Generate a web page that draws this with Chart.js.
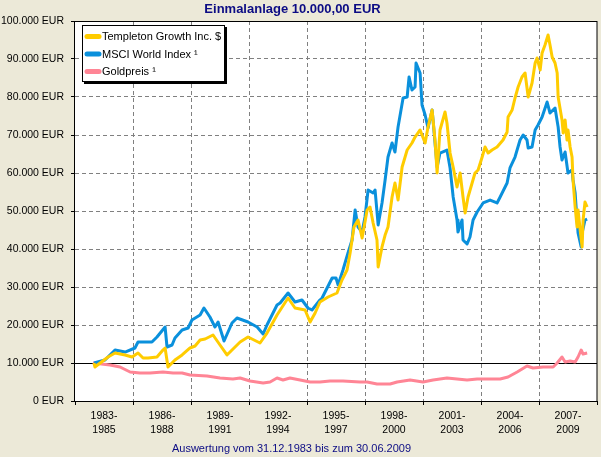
<!DOCTYPE html>
<html lang="de">
<head>
<meta charset="utf-8">
<title>Einmalanlage 10.000,00 EUR</title>
<script src="https://cdn.jsdelivr.net/npm/chart.js@4.4.0/dist/chart.umd.min.js"></script>
<style>
  html, body { margin: 0; padding: 0; background: #ece9d8; }
  #growthChart { display: block; }
</style>
</head>
<body>
<canvas id="growthChart" width="601" height="457"></canvas>
<script>
const titleText = 'Einmalanlage 10.000,00 EUR';
const footerText = 'Auswertung vom 31.12.1983 bis zum 30.06.2009';
const seriesNames = ['Templeton Growth Inc. $', 'MSCI World Index \u00b9', 'Goldpreis \u00b9'];
const seriesColors = ['#ffcc00', '#0a90dc', '#ff8595'];

// x axis: 9 periods of three years, 1983 .. 2010
const periodLabels = [
  ['1983-', '1985'], ['1986-', '1988'], ['1989-', '1991'],
  ['1992-', '1994'], ['1995-', '1997'], ['1998-', '2000'],
  ['2001-', '2003'], ['2004-', '2006'], ['2007-', '2009']
];
const yearStart = 1983;
const yearEnd = 2010;

// values (date as decimal year, value in EUR)
const templetonDates = [1983.98, 1984.03, 1984.71, 1985.07, 1985.59, 1985.95, 1986.26, 1986.52, 1986.78, 1987.24,
  1987.55, 1987.66, 1987.81, 1988.17, 1988.54, 1988.95, 1989.21, 1989.47, 1989.73, 1990.14,
  1990.50, 1990.86, 1991.54, 1991.95, 1992.57, 1992.93, 1993.45, 1994.02, 1994.38, 1994.90,
  1995.16, 1995.42, 1995.67, 1996.09, 1996.55, 1996.81, 1997.07, 1997.23, 1997.43, 1997.64,
  1997.85, 1998.11, 1998.26, 1998.42, 1998.62, 1998.68, 1998.88, 1999.04, 1999.19, 1999.40,
  1999.55, 1999.71, 1999.92, 2000.18, 2000.43, 2000.59, 2000.85, 2001.11, 2001.26, 2001.47,
  2001.62, 2001.73, 2001.88, 2002.14, 2002.24, 2002.40, 2002.56, 2002.76, 2002.92, 2003.07,
  2003.18, 2003.33, 2003.54, 2003.69, 2003.85, 2004.06, 2004.21, 2004.37, 2004.57, 2004.83,
  2005.14, 2005.35, 2005.40, 2005.61, 2005.76, 2005.92, 2006.12, 2006.28, 2006.44, 2006.64,
  2006.80, 2006.90, 2007.06, 2007.16, 2007.31, 2007.47, 2007.57, 2007.68, 2007.83, 2007.94,
  2007.99, 2008.19, 2008.25, 2008.35, 2008.45, 2008.50, 2008.61, 2008.71, 2008.76, 2008.87,
  2008.97, 2009.02, 2009.13, 2009.23, 2009.28, 2009.38, 2009.49];
const templetonValues = [10000, 8950, 11580, 12630, 12110, 11580, 12630, 11320, 11320, 11580,
  13420, 13950, 8950, 10790, 12110, 13950, 14470, 16050, 16320, 17370,
  14740, 12110, 15530, 16840, 15260, 17890, 22630, 27110, 24470, 23950,
  20790, 23160, 26050, 27370, 28420, 31840, 34470, 38950, 45790, 47630,
  42890, 50260, 51050, 46840, 42370, 35260, 40530, 43680, 45790, 53680,
  57370, 52890, 61580, 66050, 67890, 69470, 71320, 67890, 72110, 76580,
  68680, 60000, 71320, 76050, 73160, 65260, 61580, 56320, 60000, 53680,
  49470, 53680, 57370, 60000, 60790, 64210, 66840, 65260, 66050, 66840,
  68680, 70790, 74740, 76580, 79740, 82630, 85260, 86320, 80000, 83680,
  88950, 90260, 87110, 91580, 93680, 96320, 93680, 90530, 88950, 86320,
  80000, 73950, 70530, 73950, 68680, 71320, 66840, 64210, 58160, 51050,
  45790, 50260, 45000, 40530, 47630, 52370, 51050];

const msciDates = [1983.98, 1984.55, 1985.07, 1985.59, 1986.10, 1986.26, 1986.98, 1987.24, 1987.66, 1987.76,
  1988.02, 1988.17, 1988.54, 1988.85, 1989.05, 1989.47, 1989.67, 1989.98, 1990.24, 1990.40,
  1990.71, 1991.12, 1991.38, 1991.95, 1992.42, 1992.73, 1992.93, 1993.45, 1993.61, 1994.02,
  1994.38, 1994.74, 1995.05, 1995.26, 1995.67, 1995.78, 1996.30, 1996.50, 1996.61, 1996.86,
  1997.12, 1997.33, 1997.49, 1997.64, 1997.85, 1998.00, 1998.16, 1998.42, 1998.52, 1998.68,
  1998.88, 1999.04, 1999.19, 1999.40, 1999.55, 1999.71, 1999.97, 2000.18, 2000.28, 2000.43,
  2000.59, 2000.64, 2000.85, 2000.95, 2001.11, 2001.26, 2001.47, 2001.52, 2001.73, 2001.88,
  2002.24, 2002.40, 2002.56, 2002.76, 2002.81, 2003.02, 2003.07, 2003.28, 2003.43, 2003.59,
  2003.80, 2004.11, 2004.47, 2004.83, 2004.99, 2005.35, 2005.50, 2005.76, 2006.02, 2006.18,
  2006.38, 2006.44, 2006.64, 2006.80, 2006.95, 2007.16, 2007.42, 2007.57, 2007.83, 2007.99,
  2008.09, 2008.19, 2008.35, 2008.50, 2008.71, 2008.76, 2008.87, 2008.92, 2008.97, 2009.02,
  2009.18, 2009.23, 2009.38, 2009.49];
const msciValues = [10000, 10790, 13420, 12890, 13950, 15530, 15530, 16840, 19470, 14210,
  14740, 16580, 18680, 19210, 21320, 22630, 24470, 22110, 19470, 20790,
  15790, 20530, 21840, 20790, 19470, 17630, 20000, 25260, 25790, 28420,
  26050, 26580, 24470, 23950, 26580, 27110, 32370, 32370, 30530, 34470,
  38950, 42370, 50260, 45790, 44470, 48420, 55530, 54740, 55530, 46320,
  52110, 58160, 64210, 67890, 65530, 72110, 79740, 80000, 85260, 81840,
  82630, 88950, 86320, 77890, 75260, 71840, 76580, 73950, 61580, 65260,
  66050, 61320, 53680, 47630, 44470, 47630, 42370, 41320, 43160, 47630,
  49740, 52110, 52890, 52110, 53680, 57370, 61320, 64210, 68680, 70000,
  68680, 66580, 66840, 71320, 72630, 74740, 78680, 75790, 77110, 72110,
  66840, 63420, 65530, 60000, 60790, 58160, 54740, 51050, 47630, 44210,
  40530, 44210, 47630, 47890];

const goldDates = [1983.93, 1984.81, 1985.33, 1985.85, 1986.36, 1986.88, 1987.55, 1988.07, 1988.54, 1988.95,
  1989.83, 1990.50, 1991.17, 1991.54, 1992.05, 1992.73, 1993.09, 1993.45, 1993.76, 1994.12,
  1994.64, 1995.16, 1995.67, 1996.19, 1996.86, 1997.74, 1998.11, 1998.62, 1999.30, 1999.66,
  2000.33, 2001.00, 2001.52, 2002.24, 2002.76, 2003.28, 2003.80, 2004.31, 2004.99, 2005.40,
  2005.87, 2006.38, 2006.69, 2007.21, 2007.73, 2007.94, 2008.19, 2008.35, 2008.61, 2008.87,
  2009.02, 2009.18, 2009.28, 2009.49];
const goldValues = [10000, 9470, 8950, 7630, 7370, 7370, 7630, 7370, 7370, 6840,
  6580, 6050, 5790, 6050, 5260, 4740, 5000, 6050, 5530, 6050,
  5530, 5000, 5000, 5260, 5260, 5000, 5000, 4470, 4470, 5000,
  5530, 5000, 5530, 6050, 5790, 5530, 5790, 5790, 5790, 6320,
  7630, 9210, 8680, 8950, 8950, 10000, 11580, 10260, 10530, 10260,
  11580, 13420, 12370, 12630];

const yMax = 100000;
const yStep = 10000;
const baseValue = 10000;

const fontFamily = '"Liberation Sans", Arial, sans-serif';
const navy = '#0c0c84';

function toPoints(dates, values) {
  return dates.map((d, i) => ({ x: d, y: values[i] }));
}

function formatEur(v) {
  return String(v).replace(/\B(?=(\d{3})+(?!\d))/g, '.') + ' EUR';
}

function isPeriodEdge(v) {
  return Math.abs((v - yearStart) % 3) < 0.01;
}

// last pass: white plot area, grid, 10.000 line and the lines again on top, then frame, title, footer
const frame = {
  id: 'plotFrame',
  afterDraw(chart) {
    const { ctx, chartArea } = chart;
    const xs = chart.scales.x;
    const ys = chart.scales.y;

    ctx.save();
    ctx.globalCompositeOperation = 'source-over';
    ctx.fillStyle = '#ffffff';
    ctx.fillRect(chartArea.left, chartArea.top, chartArea.right - chartArea.left, chartArea.bottom - chartArea.top);
    ctx.restore();

    xs.drawGrid(chartArea);
    ys.drawGrid(chartArea);

    const y = Math.round(ys.getPixelForValue(baseValue)) + 0.5;
    ctx.save();
    ctx.strokeStyle = '#000';
    ctx.lineWidth = 1;
    ctx.beginPath();
    ctx.moveTo(chartArea.left, y);
    ctx.lineTo(chartArea.right, y);
    ctx.stroke();
    ctx.restore();

    ctx.save();
    ctx.beginPath();
    ctx.rect(chartArea.left, chartArea.top, chartArea.right - chartArea.left, chartArea.bottom - chartArea.top);
    ctx.clip();
    for (let i = chart.data.datasets.length - 1; i >= 0; i--) {
      chart.getDatasetMeta(i).controller.draw();
    }
    ctx.restore();

    ctx.save();
    ctx.strokeStyle = '#000';
    ctx.lineWidth = 1;
    ctx.strokeRect(chartArea.left - 0.5, chartArea.top + 0.5,
      chartArea.right - chartArea.left + 0.5, chartArea.bottom - chartArea.top);
    ctx.fillStyle = navy;
    ctx.textAlign = 'center';
    ctx.textBaseline = 'alphabetic';
    ctx.font = 'bold 13px ' + fontFamily;
    ctx.fillText(titleText, 292.5, 13);
    ctx.font = '11px ' + fontFamily;
    ctx.fillText(footerText, 291.5, 452);
    ctx.restore();
  }
};

const legendBox = {
  id: 'legendBox',
  afterDraw(chart) {
    const { ctx, chartArea } = chart;
    const x = chartArea.left + 7;
    const y = chartArea.top + 4;
    const w = 143;
    const h = 57;
    ctx.save();
    ctx.fillStyle = '#000';
    ctx.fillRect(x + 2, y + 2, w, h);
    ctx.fillStyle = '#ffffff';
    ctx.fillRect(x, y, w, h);
    ctx.strokeStyle = '#000';
    ctx.lineWidth = 1;
    ctx.strokeRect(x + 0.5, y + 0.5, w - 1, h - 1);
    ctx.font = '11px ' + fontFamily;
    ctx.textAlign = 'left';
    ctx.textBaseline = 'middle';
    chart.data.datasets.forEach((ds, i) => {
      const ly = y + 11.5 + i * 17.5;
      ctx.strokeStyle = ds.borderColor;
      ctx.lineWidth = 5;
      ctx.lineCap = 'round';
      ctx.beginPath();
      ctx.moveTo(x + 5, ly);
      ctx.lineTo(x + 17, ly);
      ctx.stroke();
      ctx.fillStyle = '#000';
      ctx.fillText(ds.label, x + 20, ly + 0.5);
    });
    ctx.restore();
  }
};

Chart.defaults.font.family = fontFamily;
Chart.defaults.color = '#000';

new Chart('growthChart', {
  type: 'line',
  data: {
    datasets: [
      { label: seriesNames[0], data: toPoints(templetonDates, templetonValues), borderColor: seriesColors[0] },
      { label: seriesNames[1], data: toPoints(msciDates, msciValues), borderColor: seriesColors[1] },
      { label: seriesNames[2], data: toPoints(goldDates, goldValues), borderColor: seriesColors[2] }
    ]
  },
  options: {
    responsive: false,
    animation: false,
    events: [],
    layout: { padding: { top: 21, right: 4, bottom: 20, left: 0 } },
    elements: {
      line: { borderWidth: 3, tension: 0, borderJoinStyle: 'round', fill: false },
      point: { radius: 0 }
    },
    plugins: {
      legend: { display: false },
      title: { display: false },
      tooltip: { enabled: false }
    },
    scales: {
      x: {
        type: 'linear',
        min: yearStart,
        max: yearEnd,
        afterBuildTicks(scale) {
          const ticks = [];
          for (let v = yearStart; v <= yearEnd + 0.01; v += 1.5) ticks.push({ value: v });
          scale.ticks = ticks;
        },
        afterFit(scale) { scale.height = 36; },
        ticks: {
          autoSkip: false,
          maxRotation: 0,
          padding: 4,
          font: { size: 10.5, lineHeight: 1.35 },
          callback(value) {
            if (isPeriodEdge(value)) return '';
            return periodLabels[Math.floor((value - yearStart) / 3)];
          }
        },
        grid: {
          color: ctx => (isPeriodEdge(ctx.tick.value) && ctx.tick.value > yearStart && ctx.tick.value < yearEnd) ? '#808080' : 'rgba(0,0,0,0)',
          tickColor: ctx => isPeriodEdge(ctx.tick.value) ? '#000' : 'rgba(0,0,0,0)',
          tickLength: 4
        },
        border: { display: false, dash: [4, 3] }
      },
      y: {
        min: 0,
        max: yMax,
        afterFit(scale) { scale.width = 75; },
        ticks: {
          stepSize: yStep,
          padding: 7,
          font: { size: 10.5 },
          callback: v => formatEur(v)
        },
        grid: {
          color: ctx => (ctx.tick.value > 0 && ctx.tick.value < yMax) ? '#808080' : 'rgba(0,0,0,0)',
          tickColor: '#000',
          tickLength: 4
        },
        border: { display: false, dash: [4, 3] }
      }
    }
  },
  plugins: [frame, legendBox]
});
</script>
</body>
</html>
